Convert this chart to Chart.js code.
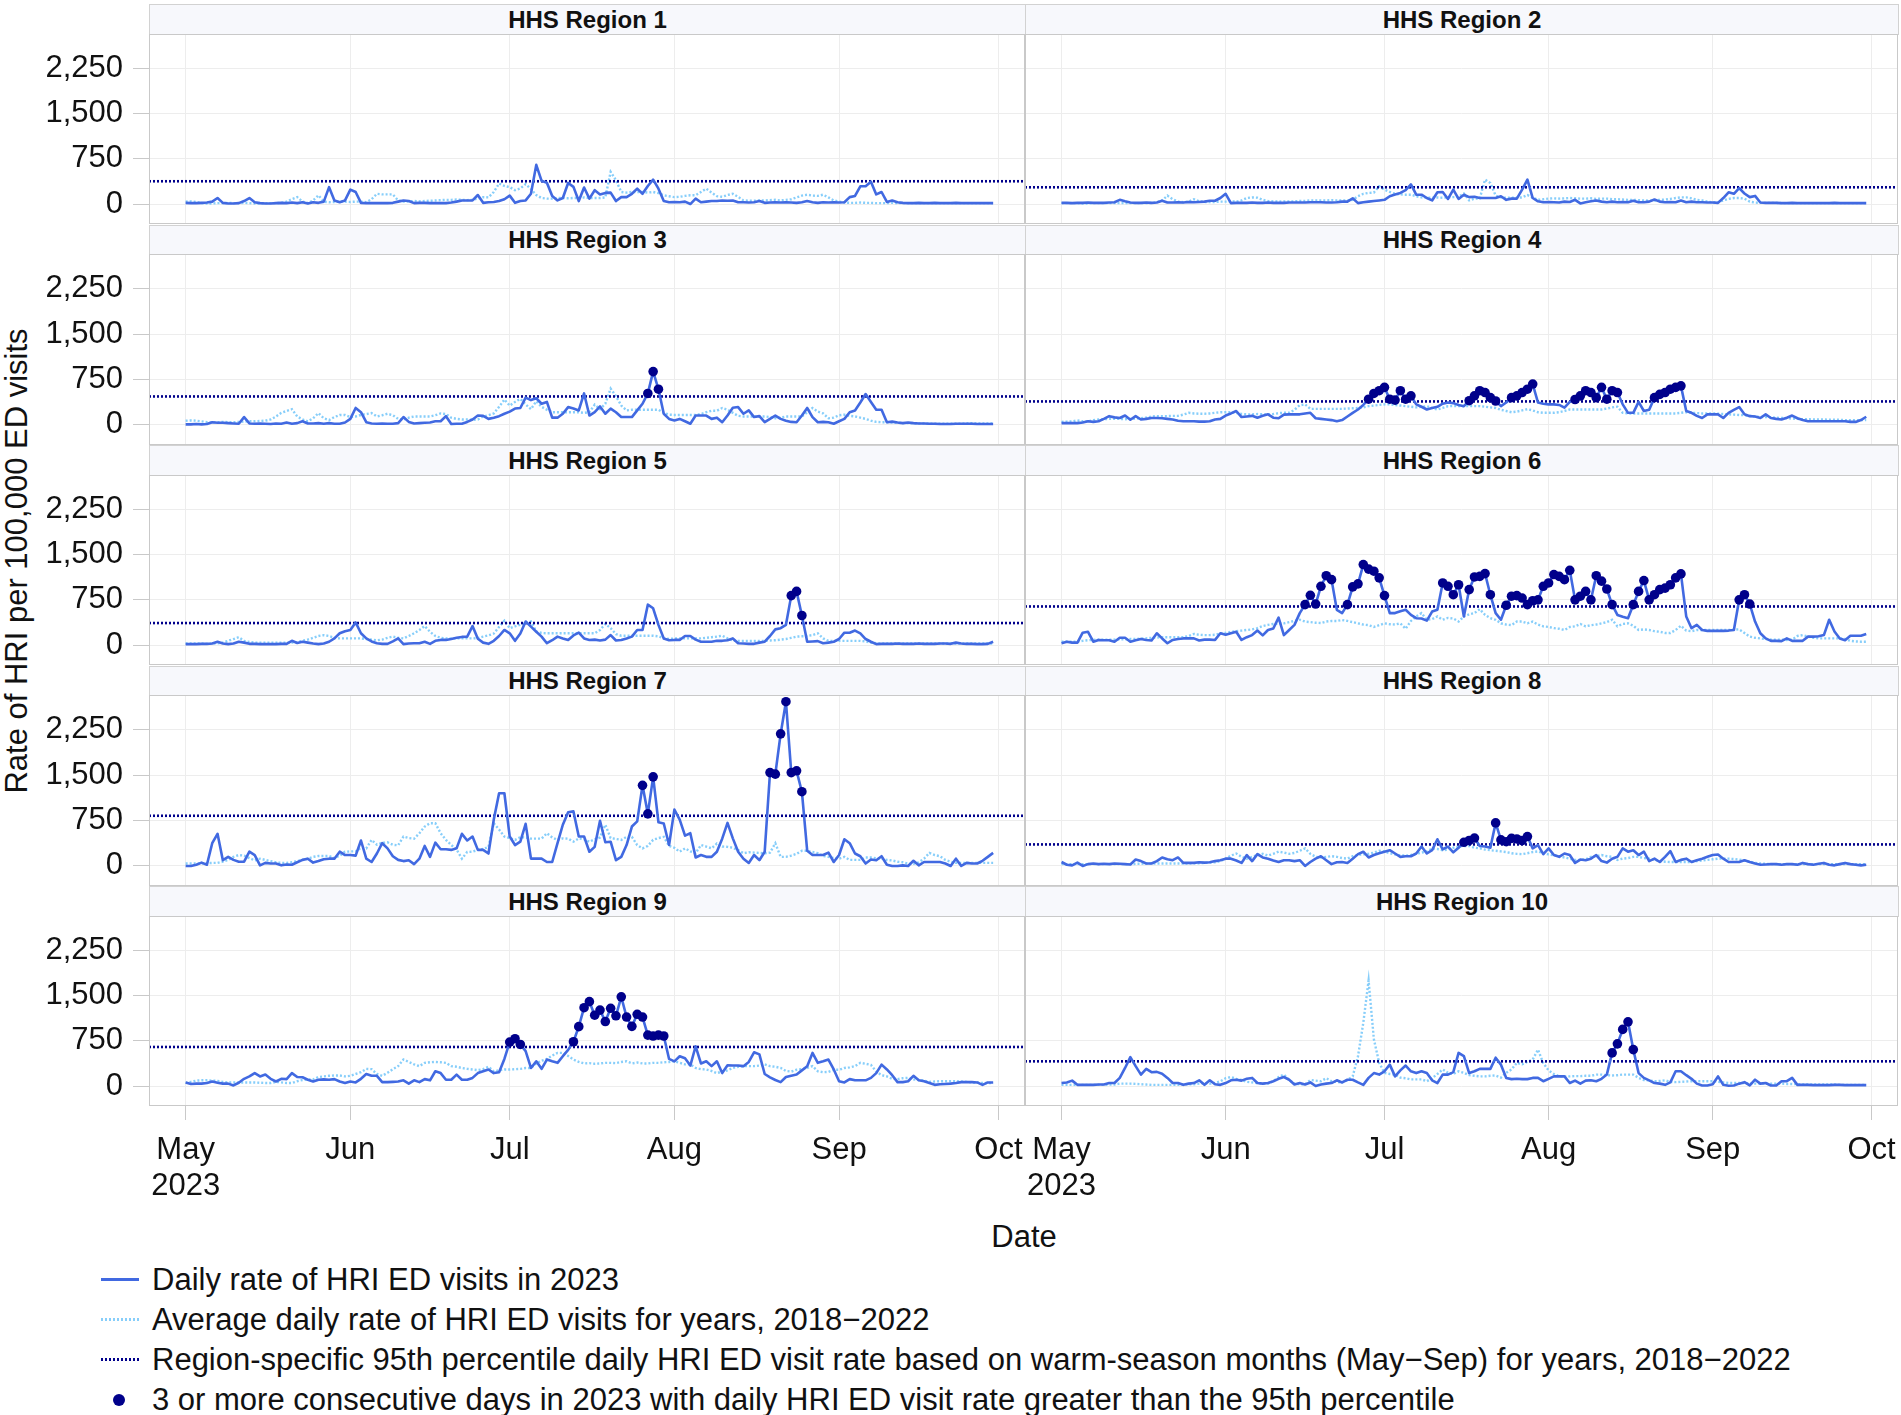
<!DOCTYPE html>
<html lang="en">
<head>
<meta charset="utf-8">
<title>Daily HRI ED visit rates by HHS Region, 2023</title>
<script src="https://cdn.jsdelivr.net/npm/chart.js@4.4.1/dist/chart.umd.min.js"></script>
<style>
html,body{margin:0;padding:0;background:#fff;}
body{width:1901px;height:1415px;position:relative;overflow:hidden;font-family:"Liberation Sans",Arial,Helvetica,sans-serif;color:#111;}
.strip{position:absolute;box-sizing:border-box;background:#f7f8fc;border:1px solid #d2d2d2;font-weight:bold;font-size:24px;text-align:center;color:#111;}
canvas{position:absolute;}
#ytitle{position:absolute;left:17px;top:561px;transform:translate(-50%,-50%) rotate(-90deg);font-size:31px;white-space:nowrap;}
#xtitle{position:absolute;left:1024px;top:1237px;transform:translate(-50%,-50%);font-size:31px;}
.leg{position:absolute;left:152px;font-size:31px;line-height:36px;height:36px;white-space:nowrap;}
.sym{position:absolute;left:-51px;width:38px;height:3px;top:16px;}
</style>
</head>
<body>
<div id="ytitle">Rate of HRI per 100,000 ED visits</div>
<div id="xtitle">Date</div>
<div class="leg" style="top:1262px"><span class="sym" style="background:#4169e1"></span>Daily rate of HRI ED visits in 2023</div>
<div class="leg" style="top:1302px"><span class="sym" style="background:repeating-linear-gradient(90deg,#87cefa 0 2px,transparent 2px 4px)"></span>Average daily rate of HRI ED visits for years, 2018−2022</div>
<div class="leg" style="top:1342px"><span class="sym" style="background:repeating-linear-gradient(90deg,#00008b 0 2px,transparent 2px 4px)"></span>Region-specific 95th percentile daily HRI ED visit rate based on warm-season months (May−Sep) for years, 2018−2022</div>
<div class="leg" style="top:1382px"><span class="sym" style="left:-39px;width:12px;height:12px;top:12px;border-radius:50%;background:#00008b"></span>3 or more consecutive days in 2023 with daily HRI ED visit rate greater than the 95th percentile</div>
<script>
// ---------------- DATA ----------------
// x = day index from May 1, 2023 (0 = May 1 ... 152 = Sep 30)
const regionNames = ['HHS Region 1','HHS Region 2','HHS Region 3','HHS Region 4','HHS Region 5',
                     'HHS Region 6','HHS Region 7','HHS Region 8','HHS Region 9','HHS Region 10'];
const monthTicks = [0, 31, 61, 92, 123, 153];
const monthLabels = [['May','2023'], 'Jun', 'Jul', 'Aug', 'Sep', 'Oct'];
const yTicks = [0, 750, 1500, 2250];
// Region-specific 95th percentile thresholds
const p95 = [378, 278, 470, 388, 365, 640, 828, 355, 648, 410];

const r1 = [20,15,15,20,25,40,100,20,10,10,
15,50,100,30,15,10,10,15,20,15,
25,15,30,10,30,20,40,280,60,30,
60,240,200,20,15,15,15,15,15,20,
40,60,50,15,20,20,15,15,15,15,
25,40,60,60,60,150,20,30,35,50,
80,140,20,50,60,170,650,385,355,135,
60,100,350,285,50,275,90,230,160,185,
190,50,115,115,170,255,170,300,405,255,
50,30,35,30,40,0,90,30,40,50,
50,60,55,60,30,30,25,30,50,20,
25,30,25,30,25,20,30,50,30,20,
30,25,30,25,30,115,135,295,295,370,
160,200,35,60,30,20,15,15,20,15,
15,20,15,15,15,20,15,15,15,15,
15,15,15];
const r1avg = [40,45,35,15,10,10,15,15,20,15,
15,20,15,10,10,15,15,15,20,40,
80,115,40,15,60,145,40,30,35,40,
40,35,40,40,30,80,170,160,160,160,
60,40,45,50,45,50,55,60,65,70,
70,75,70,65,70,90,115,110,200,340,
300,280,230,260,330,250,150,100,90,90,
100,100,95,100,100,110,100,100,100,110,
535,395,200,190,200,200,200,190,200,180,
145,130,115,120,135,145,145,200,255,190,
130,120,150,170,120,60,55,55,60,60,
65,70,60,70,80,110,140,155,140,135,
155,110,60,40,25,20,20,25,20,20,
15,15,15,20,15,15,15,15,15,15,
15,15,15,15,15,15,15,15,15,15,
15,15,15];

const r2 = [20,20,15,20,20,25,20,20,20,25,
30,70,45,25,20,20,25,20,25,55,
25,25,30,25,35,30,35,40,55,55,
100,170,15,20,20,20,25,20,20,25,
20,20,20,25,25,25,25,30,30,30,
25,25,30,40,40,95,15,30,40,50,
60,70,130,160,185,230,325,155,155,100,
60,195,200,85,240,85,155,115,120,100,
100,100,100,130,70,90,90,240,405,100,
45,30,35,30,25,40,35,70,10,30,
45,60,40,30,40,30,35,30,55,30,
30,40,75,40,30,35,30,60,30,40,
30,30,25,25,20,100,195,170,265,175,
115,135,25,20,20,20,15,15,20,15,
15,15,15,15,15,15,20,15,15,15,
15,15,15];
const r2avg = [15,15,15,15,10,10,15,15,15,15,
15,15,15,15,15,15,15,20,30,60,
140,80,40,30,40,80,45,35,35,35,
40,40,45,40,60,100,110,105,70,50,
45,40,45,45,45,50,50,60,60,60,
60,65,60,60,60,70,130,170,185,190,
295,240,200,170,160,155,155,130,110,105,
105,110,105,110,115,120,175,60,90,95,
405,350,140,110,105,105,105,110,150,110,
70,80,90,95,90,95,100,95,90,90,
95,85,90,90,80,80,75,70,70,65,
60,55,60,70,75,85,100,110,110,95,
70,60,40,30,30,60,85,100,100,90,
40,25,20,20,20,20,15,15,15,15,
15,15,15,15,15,15,15,15,15,15,
15,15,15];

const r3 = [10,10,15,10,15,45,35,35,30,25,
20,130,25,20,25,20,15,25,20,40,
20,30,60,25,25,30,20,30,20,20,
40,100,280,210,45,25,20,25,20,20,
30,130,50,25,30,35,40,60,60,145,
15,20,20,50,90,155,150,100,120,145,
185,220,270,280,450,410,440,350,380,120,
120,185,295,270,240,520,155,210,305,185,
270,210,130,130,130,240,350,520,880,590,
185,100,75,100,60,20,155,155,155,100,
120,45,155,285,295,185,240,130,145,45,
100,155,100,70,50,45,155,280,130,45,
50,45,20,60,100,210,240,370,510,380,
250,250,45,55,40,30,40,30,25,25,
20,20,15,15,15,20,20,20,20,15,
15,15,15];
const r3avg = [70,75,70,60,45,40,45,50,45,45,
50,55,60,60,65,70,90,140,200,230,
260,140,90,60,110,195,110,80,130,165,
165,130,140,165,180,195,140,160,185,160,
100,90,120,140,140,140,140,160,190,180,
120,100,90,90,85,90,140,160,190,300,
420,320,380,430,340,260,390,300,250,210,
210,210,210,210,210,200,210,335,260,350,
600,475,320,240,250,250,250,250,250,250,
200,170,165,165,165,165,165,180,210,235,
235,280,250,200,150,140,140,140,140,140,
130,110,120,140,140,140,140,210,280,220,
190,110,120,160,170,150,140,120,100,70,
50,45,45,40,35,30,30,25,25,25,
20,20,20,20,20,20,20,25,30,25,
25,25,25];

const r4 = [30,30,30,30,40,60,50,60,100,145,
125,115,155,85,145,90,100,115,115,110,
100,90,70,60,60,60,55,55,60,90,
100,155,190,230,130,140,150,120,150,175,
120,110,170,175,175,175,190,200,110,100,
90,80,60,80,140,200,255,330,425,520,
565,620,425,410,565,425,480,340,300,255,
280,300,350,370,360,330,310,400,480,565,
535,450,395,310,370,450,480,535,590,675,
370,350,340,340,330,285,380,420,480,565,
535,450,620,425,565,535,340,200,200,380,
230,250,450,505,535,590,620,645,230,200,
150,115,175,175,175,115,200,250,295,175,
145,140,115,175,115,100,90,120,155,110,
80,60,60,60,60,60,60,60,60,50,
50,80,135];
const r4avg = [50,55,60,75,60,55,80,90,95,100,
100,100,95,100,105,110,120,140,145,145,
145,150,150,170,200,190,185,185,190,200,
210,210,210,200,180,175,175,180,175,175,
180,195,200,200,250,325,340,265,265,265,
265,265,265,265,270,275,280,290,310,320,
330,340,340,330,320,310,300,290,300,310,
280,255,280,310,310,310,310,310,310,310,
300,290,280,250,230,210,220,240,260,240,
210,200,200,200,210,230,255,255,255,255,
255,255,255,270,290,300,200,190,190,190,
190,190,190,190,190,190,190,200,210,200,
195,190,190,190,185,180,175,170,165,160,
150,140,130,130,125,120,115,110,105,100,
95,95,90,90,90,85,85,85,80,80,
80,80,80];

const r5 = [15,15,15,20,20,25,55,25,15,25,
55,40,20,20,15,15,15,15,20,20,
70,35,55,40,25,15,25,55,110,195,
230,250,375,195,110,60,30,20,20,60,
110,15,25,30,30,55,20,70,85,85,
100,120,135,140,315,105,40,20,70,150,
250,195,70,190,390,305,220,140,30,80,
140,110,85,160,205,110,85,90,75,90,
165,75,85,110,140,250,250,670,610,335,
110,80,85,85,150,150,90,55,55,55,
70,70,80,110,30,25,20,20,40,55,
150,260,280,335,820,890,490,55,60,65,
30,40,55,100,205,205,240,195,100,55,
15,20,20,20,25,20,20,20,25,20,
20,20,25,25,20,40,25,20,20,15,
15,20,55];
const r5avg = [25,25,25,25,20,25,30,40,70,100,
130,70,50,40,40,40,40,40,40,40,
40,45,70,90,120,150,165,150,120,110,
110,110,110,110,100,90,80,90,120,140,
120,110,150,195,250,315,220,150,120,110,
110,110,110,110,110,115,140,160,190,300,
405,280,310,335,360,390,225,200,195,195,
195,195,195,195,195,195,195,195,250,350,
280,180,155,155,155,155,155,155,155,145,
110,100,110,110,110,110,110,110,120,130,
140,155,110,75,70,70,70,70,70,70,
75,80,90,100,120,140,145,150,165,195,
110,70,70,70,70,70,70,70,60,40,
30,25,25,25,25,25,25,25,25,25,
25,25,25,25,25,25,25,25,25,25,
25,25,25];

const r6 = [30,55,40,40,205,220,55,85,80,80,
55,120,120,55,80,100,85,75,195,110,
30,85,100,110,110,110,75,90,90,85,
195,170,195,220,85,130,165,240,160,250,
275,455,165,250,335,530,670,825,680,975,
1150,1085,585,530,670,965,1015,1335,1260,1225,
1115,820,530,530,560,585,500,445,440,405,
555,585,1030,975,835,1000,475,920,1130,1140,
1185,835,530,420,660,810,820,780,670,735,
750,975,1030,1170,1140,1085,1240,750,810,890,
750,1150,1060,930,670,500,470,445,670,890,
1070,750,835,920,945,1000,1115,1180,475,280,
335,250,235,235,235,235,240,250,750,835,
680,390,195,110,70,70,65,110,70,70,
70,140,140,145,165,420,225,110,80,155,
155,155,185];
const r6avg = [55,55,55,55,70,80,85,90,90,90,
90,95,95,100,100,110,110,120,125,130,
130,130,130,130,150,185,170,165,165,170,
195,200,220,230,240,250,260,280,315,335,
350,360,360,380,400,420,390,380,370,365,
390,400,400,415,400,380,360,340,330,300,
330,360,345,340,360,270,400,475,530,420,
430,475,420,450,440,390,475,510,530,595,
500,445,420,360,340,330,390,390,360,390,
340,310,300,280,270,250,300,310,350,310,
330,340,360,380,420,310,350,360,320,250,
260,250,230,220,200,200,250,320,240,230,
250,250,250,250,250,250,250,255,260,200,
140,120,110,100,90,90,90,85,90,150,
165,140,120,110,110,110,110,110,100,70,
60,55,55];

const r7 = [0,0,20,55,20,375,530,95,150,100,
70,70,235,180,10,50,40,40,10,25,
20,60,100,120,55,80,110,120,120,235,
180,180,170,420,120,65,205,375,290,160,
100,80,95,30,120,330,150,385,275,275,
265,290,530,420,485,265,265,205,765,1200,
1200,485,345,400,695,120,120,120,65,65,
375,680,885,900,485,485,235,315,745,390,
400,95,150,345,650,735,1330,860,1470,720,
700,345,930,765,500,540,140,180,150,150,
235,450,710,455,235,120,50,180,95,235,
1540,1515,2180,2710,1540,1570,1225,250,180,180,
180,220,65,180,440,375,205,160,40,105,
95,160,20,0,0,10,0,85,10,65,
65,65,65,40,0,120,0,50,40,40,
85,150,215];
const r7avg = [40,40,40,40,45,50,50,70,100,150,
180,170,130,90,120,100,80,60,50,50,
60,80,100,120,150,165,165,165,130,170,
235,240,240,300,290,430,350,380,390,350,
340,485,460,450,540,650,705,705,540,430,
345,270,120,230,235,265,280,315,705,600,
485,460,430,475,470,450,450,450,540,470,
430,455,450,400,455,440,400,440,470,680,
460,445,430,480,480,345,290,330,430,460,
480,330,300,235,290,240,210,345,320,290,
370,320,315,300,260,210,225,220,215,210,
220,375,150,150,170,200,250,250,230,210,
165,150,130,120,150,100,100,100,140,140,
125,120,100,90,70,60,40,35,60,120,
215,180,160,100,70,50,50,50,50,50,
50,50,50];

const r8 = [65,20,10,55,0,30,40,30,35,30,
40,35,30,25,105,80,40,40,80,140,
110,95,140,50,50,50,60,55,60,80,
95,120,120,90,50,180,80,195,140,120,
90,65,95,95,80,95,0,65,120,160,
95,30,60,65,50,120,195,235,140,180,
210,235,260,205,150,160,160,205,320,205,
260,440,275,320,225,300,390,420,460,330,
320,300,710,430,400,455,445,420,485,290,
345,195,290,180,150,205,180,50,105,95,
120,180,80,55,120,150,290,235,260,180,
235,80,120,65,150,245,65,100,120,65,
95,120,150,180,190,120,65,65,65,95,
65,40,20,25,30,30,20,30,30,20,
50,30,20,35,50,20,10,30,50,30,
20,10,20];
const r8avg = [30,30,30,30,30,30,30,30,30,30,
30,30,30,30,35,35,40,40,40,40,
40,40,40,40,40,45,45,50,55,60,
80,120,170,205,150,120,150,180,200,170,
200,235,220,200,215,250,290,200,150,140,
150,160,150,130,120,160,180,190,200,220,
250,240,210,190,175,170,180,200,220,240,
290,280,260,270,300,320,330,330,300,290,
270,260,250,240,230,210,200,195,210,230,
240,210,190,175,160,140,120,100,100,110,
150,160,180,160,150,100,120,130,150,150,
130,120,100,80,70,65,65,65,65,65,
80,90,100,110,120,120,120,115,105,90,
70,50,40,35,30,30,30,30,30,30,
30,30,30,30,30,30,30,30,30,30,
30,30,30];

const r9 = [60,35,40,40,50,75,55,40,40,10,
55,120,160,215,160,190,120,75,120,115,
215,150,145,105,75,105,110,105,115,75,
50,75,60,120,200,170,170,65,65,70,
75,95,40,95,65,115,95,245,215,105,
105,190,105,105,135,215,245,275,215,230,
450,730,785,690,580,300,410,285,440,410,
385,495,600,735,985,1300,1400,1175,1260,1070,
1290,1165,1480,1145,990,1190,1145,845,830,845,
830,450,410,495,460,340,660,375,410,330,
410,215,345,340,340,330,400,560,525,200,
145,100,65,150,170,190,260,330,550,385,
410,440,275,80,60,115,95,95,95,135,
215,355,275,180,65,65,80,170,95,80,
50,20,30,35,40,50,65,65,65,60,
20,60,60];
const r9avg = [50,70,90,95,95,90,85,70,60,60,
60,60,60,60,55,50,50,70,60,50,
50,80,100,110,110,150,160,170,175,175,
160,170,200,230,285,280,200,170,220,280,
330,440,400,360,330,385,395,400,395,385,
330,320,300,285,275,265,280,320,245,260,
275,275,280,285,300,300,375,420,450,505,
550,550,500,440,400,375,380,370,375,385,
385,380,400,410,375,390,375,375,385,385,
395,400,410,385,360,360,300,280,275,250,
215,240,260,300,320,330,330,330,340,360,
330,320,300,250,240,270,280,300,330,245,
230,235,270,270,300,310,330,385,370,350,
240,180,160,120,115,130,135,110,100,90,
70,75,80,80,80,80,75,70,60,60,
50,50,50];

const r10 = [50,60,90,20,20,20,20,25,25,50,
50,135,300,480,330,190,285,230,235,205,
135,50,50,20,40,50,95,20,95,30,
20,50,95,105,90,120,135,50,40,50,
80,120,150,105,25,50,25,60,0,25,
40,50,95,60,105,105,60,20,135,215,
190,245,355,160,260,340,245,215,245,215,
95,50,190,190,230,550,495,215,245,285,
285,285,470,355,135,115,120,115,115,135,
135,80,120,160,160,160,50,90,40,90,
95,80,120,190,550,700,940,1065,605,215,
135,95,50,40,20,60,245,245,180,120,
40,10,10,30,160,20,5,10,40,65,
10,105,40,50,10,10,80,80,135,20,
20,20,15,15,15,15,20,20,15,15,
15,15,15];
const r10avg = [20,20,20,20,20,20,20,20,20,25,
25,40,40,40,35,30,25,20,20,20,
20,20,20,25,30,30,40,50,40,50,
80,130,150,120,100,70,60,50,40,40,
80,150,190,100,40,30,30,100,90,80,
130,80,70,60,100,160,495,1050,1750,775,
385,220,200,190,140,130,110,110,110,80,
130,200,275,220,200,245,220,180,170,160,
160,170,175,140,220,275,385,360,400,440,
605,380,260,200,160,160,160,165,165,170,
170,190,190,180,175,180,190,190,190,135,
100,95,80,85,95,70,65,70,75,80,
80,80,80,80,70,60,50,50,50,50,
45,40,40,40,40,40,40,35,35,30,
25,25,25,25,25,25,25,20,20,20,
20,20,20];

const rate2023 = [r1, r2, r3, r4, r5, r6, r7, r8, r9, r10];
const avgRate = [r1avg, r2avg, r3avg, r4avg, r5avg, r6avg, r7avg, r8avg, r9avg, r10avg];

// ---------------- CHART ----------------
Chart.defaults.font.family = '"Liberation Sans", Arial, Helvetica, sans-serif';
Chart.defaults.color = '#111';

const X_MIN = -6.9, X_MAX = 158, Y_MIN = -331, Y_MAX = 2821;

function highRuns(vals, thr) {
  const out = [];
  let i = 0;
  while (i < vals.length) {
    if (!(vals[i] > thr)) { i++; continue; }
    let j = i;
    while (j < vals.length && vals[j] > thr) j++;
    if (j - i >= 3) for (let k = i; k < j; k++) out.push({x: k, y: vals[k]});
    i = j;
  }
  return out;
}

const framePlugin = {
  id: 'frame',
  afterDraw(chart) {
    const a = chart.chartArea, ctx = chart.ctx;
    ctx.save();
    ctx.strokeStyle = '#c9c9c9';
    ctx.lineWidth = 1;
    ctx.strokeRect(Math.round(a.left) + 0.5, Math.round(a.top) + 0.5, Math.round(a.width) - 1, Math.round(a.height) - 1);
    ctx.restore();
  }
};

for (let r = 0; r < 5; r++) {
  for (let c = 0; c < 2; c++) {
    const idx = r * 2 + c;
    const stripTop = Math.round(4 + 220.6 * r);
    const panelTop = Math.round(33.5 + 220.6 * r);
    const panelBot = Math.round(224 + 220.6 * r);
    const colL = c ? 1025 : 149, colR = c ? 1898 : 1025;

    const strip = document.createElement('div');
    strip.className = 'strip';
    strip.style.left = colL + 'px';
    strip.style.top = stripTop + 'px';
    strip.style.width = (colR - colL + 1) + 'px';
    strip.style.height = (panelTop - stripTop + 1) + 'px';
    strip.style.lineHeight = (panelTop - stripTop - 1) + 'px';
    strip.textContent = regionNames[idx];
    document.body.appendChild(strip);

    const showX = r === 4, showY = c === 0;
    const canvasL = c ? colL : 30;
    const xAxisH = showX ? 110 : 0;
    const yAxisW = colL - canvasL;
    const W = colR - canvasL, H = panelBot - panelTop + xAxisH;
    const cv = document.createElement('canvas');
    cv.width = W; cv.height = H;
    cv.style.width = W + 'px'; cv.style.height = H + 'px';
    cv.style.left = canvasL + 'px'; cv.style.top = panelTop + 'px';
    document.body.appendChild(cv);

    const vals = rate2023[idx], avg = avgRate[idx], thr = p95[idx];
    new Chart(cv, {
      type: 'line',
      data: {
        datasets: [
          { data: highRuns(vals, thr), showLine: false, pointRadius: 4.8, pointStyle: 'circle',
            pointBackgroundColor: '#00008b', pointBorderColor: '#00008b', pointBorderWidth: 0, order: 0 },
          { data: vals.map((v, i) => ({x: i, y: v})), borderColor: '#4169e1', borderWidth: 2.6,
            pointRadius: 0, borderJoinStyle: 'round', order: 1 },
          { data: [{x: X_MIN, y: thr}, {x: X_MAX, y: thr}], borderColor: '#00008b', borderWidth: 2.6,
            borderDash: [2, 2], pointRadius: 0, order: 2 },
          { data: avg.map((v, i) => ({x: i, y: v})), borderColor: '#87cefa', borderWidth: 2.4,
            borderDash: [2, 2], pointRadius: 0, order: 3 }
        ]
      },
      options: {
        responsive: false, animation: false, devicePixelRatio: 1, events: [],
        layout: { padding: 0, autoPadding: false },
        plugins: { legend: { display: false }, tooltip: { enabled: false } },
        elements: { line: { tension: 0 } },
        scales: {
          x: {
            type: 'linear', min: X_MIN, max: X_MAX,
            grid: { color: '#ededed', drawTicks: showX, tickLength: 14, tickColor: '#c9c9c9' },
            border: { display: false },
            afterBuildTicks: s => { s.ticks = monthTicks.map(v => ({value: v})); },
            ticks: { display: showX, autoSkip: false, maxRotation: 0, minRotation: 0, padding: 13,
                     color: '#111', font: { size: 31, lineHeight: 1.15 },
                     callback: (v, i) => monthLabels[i] },
            afterFit: s => { s.height = xAxisH; s.paddingLeft = 0; s.paddingRight = 0; }
          },
          y: {
            type: 'linear', min: Y_MIN, max: Y_MAX,
            grid: { color: '#ededed', drawTicks: showY, tickLength: 16, tickColor: '#c9c9c9' },
            border: { display: false },
            afterBuildTicks: s => { s.ticks = yTicks.map(v => ({value: v})); },
            ticks: { display: showY, padding: 10, color: '#111', font: { size: 31 },
                     callback: v => Number(v).toLocaleString('en-US') },
            afterFit: s => { s.width = yAxisW; s.paddingTop = 0; s.paddingBottom = 0; }
          }
        }
      },
      plugins: [framePlugin]
    });
  }
}
</script>
</body>
</html>
